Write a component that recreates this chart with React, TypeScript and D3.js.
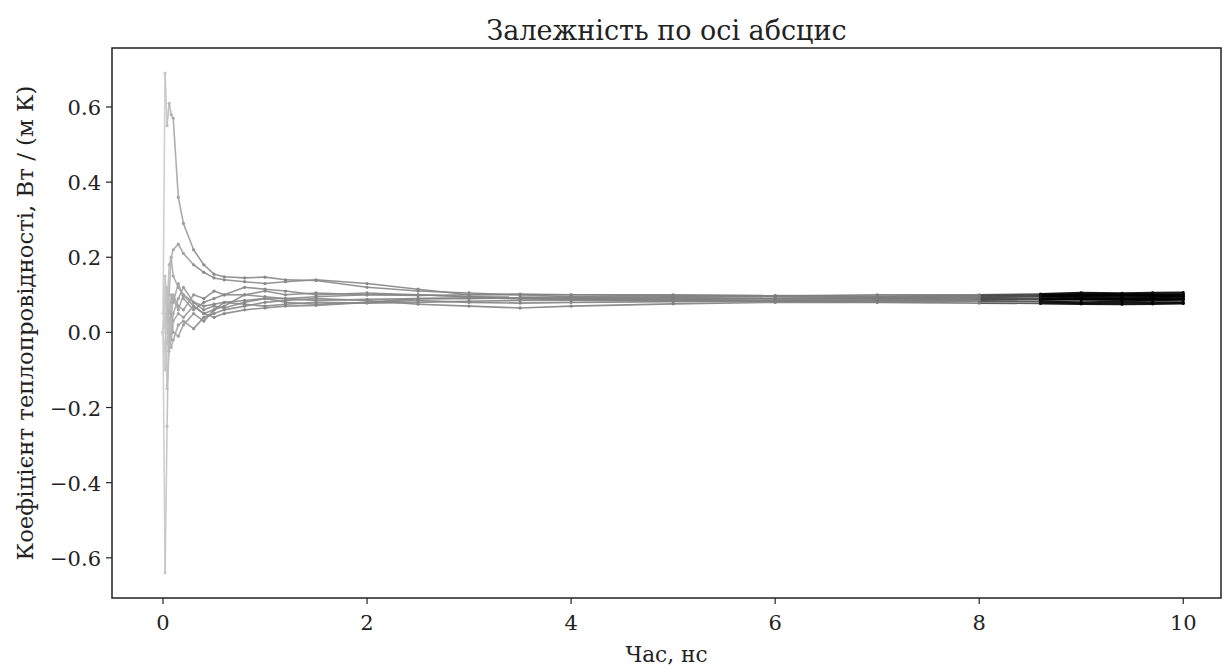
import { useEffect, useRef } from "react";
import * as d3 from "d3";

// time points, ns
const times = [0, 0.02, 0.04, 0.06, 0.08, 0.1, 0.15, 0.2, 0.3, 0.4, 0.5, 0.6, 0.8, 1.0, 1.2, 1.5, 2, 2.5, 3, 3.5, 4, 5, 6, 7, 8, 8.6, 9, 9.4, 9.7, 10];

const run1 = [0.05, 0.69, 0.55, 0.61, 0.58, 0.57, 0.36, 0.29, 0.22, 0.18, 0.155, 0.148, 0.145, 0.147, 0.14, 0.138, 0.12, 0.11, 0.105, 0.1, 0.1, 0.098, 0.097, 0.1, 0.1, 0.102, 0.105, 0.104, 0.105, 0.106];
const run2 = [0.0, -0.64, -0.25, 0.1, 0.2, 0.15, 0.12, 0.1, 0.08, 0.07, 0.075, 0.08, 0.085, 0.09, 0.09, 0.095, 0.1, 0.1, 0.095, 0.09, 0.09, 0.088, 0.09, 0.092, 0.093, 0.095, 0.094, 0.093, 0.094, 0.095];
const run3 = [0.0, 0.12, 0.05, 0.18, 0.2, 0.22, 0.235, 0.21, 0.18, 0.16, 0.145, 0.14, 0.135, 0.13, 0.135, 0.14, 0.13, 0.115, 0.1, 0.1, 0.095, 0.093, 0.09, 0.09, 0.09, 0.088, 0.09, 0.089, 0.09, 0.09];
const run4 = [0.0, 0.05, -0.15, -0.05, 0.08, 0.1, 0.07, 0.06, 0.1, 0.09, 0.11, 0.1, 0.1, 0.095, 0.09, 0.085, 0.088, 0.09, 0.092, 0.09, 0.088, 0.085, 0.086, 0.087, 0.088, 0.09, 0.088, 0.087, 0.086, 0.087];
const run5 = [0.0, 0.1, 0.02, -0.03, 0.0, 0.05, 0.09, 0.12, 0.08, 0.06, 0.07, 0.065, 0.08, 0.09, 0.08, 0.075, 0.08, 0.085, 0.08, 0.078, 0.08, 0.082, 0.083, 0.082, 0.083, 0.082, 0.08, 0.081, 0.08, 0.08];
const run6 = [0.0, -0.05, 0.04, 0.02, -0.02, 0.03, 0.05, 0.04, 0.07, 0.05, 0.06, 0.07, 0.1, 0.11, 0.1, 0.105, 0.1, 0.098, 0.1, 0.102, 0.1, 0.1, 0.098, 0.097, 0.098, 0.1, 0.1, 0.099, 0.1, 0.1];
const run7 = [0.0, 0.02, 0.06, 0.0, -0.04, -0.02, 0.02, 0.03, 0.01, 0.04, 0.05, 0.06, 0.07, 0.08, 0.085, 0.09, 0.085, 0.075, 0.07, 0.065, 0.07, 0.076, 0.08, 0.08, 0.078, 0.077, 0.076, 0.075, 0.076, 0.077];
const run8 = [0.0, 0.15, 0.08, 0.05, 0.1, 0.08, 0.13, 0.09, 0.06, 0.08, 0.09, 0.1, 0.12, 0.115, 0.11, 0.1, 0.105, 0.1, 0.095, 0.094, 0.092, 0.09, 0.091, 0.092, 0.094, 0.096, 0.097, 0.098, 0.097, 0.096];
const run9 = [0.0, -0.1, -0.03, 0.03, 0.05, 0.0, -0.01, 0.02, 0.05, 0.03, 0.06, 0.08, 0.075, 0.07, 0.075, 0.08, 0.078, 0.08, 0.083, 0.085, 0.086, 0.085, 0.084, 0.085, 0.086, 0.087, 0.088, 0.087, 0.088, 0.088];
const run10 = [0.0, 0.08, 0.12, 0.06, 0.04, 0.09, 0.06, 0.1, 0.07, 0.05, 0.04, 0.05, 0.06, 0.065, 0.07, 0.072, 0.08, 0.09, 0.09, 0.092, 0.094, 0.095, 0.096, 0.095, 0.097, 0.099, 0.1, 0.101, 0.1, 0.101];

const runs = [run1, run2, run3, run4, run5, run6, run7, run8, run9, run10];

const xTicks = [0, 2, 4, 6, 8, 10];
const yTicks = [-0.6, -0.4, -0.2, 0.0, 0.2, 0.4, 0.6];

const W = 1224;
const H = 669;
const FONT = "DejaVu Serif, Liberation Serif, serif";

export default function App() {
  const svgRef = useRef<SVGSVGElement>(null);

  useEffect(() => {
    if (!svgRef.current) return;
    const svg = d3.select(svgRef.current);
    svg.selectAll("*").remove();

    const left = 112, right = 1221, top = 48, bottom = 598;
    const x = d3.scaleLinear().domain([-0.5, 10.37]).range([left, right]);
    const y = d3.scaleLinear().domain([-0.707, 0.757]).range([bottom, top]);

    // colour goes darker with time
    const shade = d3.scaleLinear<string>()
      .domain([0, 0.1, 0.4, 8, 8.4, 8.7, 10])
      .range(["#cfcfcf", "#a9a9a9", "#8a8a8a", "#7a7a7a", "#3a3a3a", "#000", "#000"]);

    const plot = svg.append("g");
    const line = d3.line<[number, number]>().x((d) => x(d[0])).y((d) => y(d[1]));

    runs.forEach((vals) => {
      for (let i = 1; i < times.length; i++) {
        const seg: [number, number][] = [[times[i - 1], vals[i - 1]], [times[i], vals[i]]];
        const tm = (times[i - 1] + times[i]) / 2;
        plot.append("path")
          .attr("d", line(seg) || "")
          .attr("fill", "none")
          .attr("stroke", shade(tm))
          .attr("stroke-width", tm > 8.5 ? 2.2 : 1.6)
          .attr("stroke-opacity", 0.9);
      }
      plot.selectAll(null)
        .data(times.map((t, i) => [t, vals[i]] as [number, number]))
        .enter()
        .append("circle")
        .attr("cx", (d) => x(d[0]))
        .attr("cy", (d) => y(d[1]))
        .attr("r", 1.6)
        .attr("fill", (d) => shade(d[0]));
    });

    // frame
    svg.append("rect")
      .attr("x", left).attr("y", top)
      .attr("width", right - left).attr("height", bottom - top)
      .attr("fill", "none").attr("stroke", "#222").attr("stroke-width", 1.5);

    // x ticks
    const xg = svg.append("g");
    xTicks.forEach((t) => {
      xg.append("line").attr("x1", x(t)).attr("x2", x(t)).attr("y1", bottom).attr("y2", bottom + 6)
        .attr("stroke", "#222").attr("stroke-width", 1.2);
      xg.append("text").attr("x", x(t)).attr("y", bottom + 32).attr("text-anchor", "middle")
        .attr("font-family", FONT).attr("font-size", 21).attr("fill", "#222")
        .text(d3.format("d")(t));
    });

    // y ticks
    const yg = svg.append("g");
    yTicks.forEach((t) => {
      yg.append("line").attr("x1", left - 6).attr("x2", left).attr("y1", y(t)).attr("y2", y(t))
        .attr("stroke", "#222").attr("stroke-width", 1.2);
      yg.append("text").attr("x", left - 11).attr("y", y(t) + 8).attr("text-anchor", "end")
        .attr("font-family", FONT).attr("font-size", 21).attr("fill", "#222")
        .text(d3.format(".1f")(t).replace("-", "\u2212"));
    });

    svg.append("text").attr("x", (left + right) / 2).attr("y", 40).attr("text-anchor", "middle")
      .attr("font-family", FONT).attr("font-size", 28).attr("fill", "#222")
      .attr("textLength", 360).attr("lengthAdjust", "spacingAndGlyphs")
      .text("Залежність по осі абсцис");

    svg.append("text").attr("x", (left + right) / 2).attr("y", 662).attr("text-anchor", "middle")
      .attr("font-family", FONT).attr("font-size", 22).attr("fill", "#222")
      .attr("textLength", 82).attr("lengthAdjust", "spacingAndGlyphs")
      .text("Час, нс");

    svg.append("text")
      .attr("transform", `translate(33, ${(top + bottom) / 2}) rotate(-90)`)
      .attr("text-anchor", "middle")
      .attr("font-family", FONT).attr("font-size", 22).attr("fill", "#222")
      .attr("textLength", 475).attr("lengthAdjust", "spacingAndGlyphs")
      .text("Коефіцієнт теплопровідності, Вт / (м К)");
  }, []);

  return (
    <svg ref={svgRef} width={W} height={H}
      style={{ position: "absolute", left: 0, top: 0, background: "#fff", display: "block" }} />
  );
}
